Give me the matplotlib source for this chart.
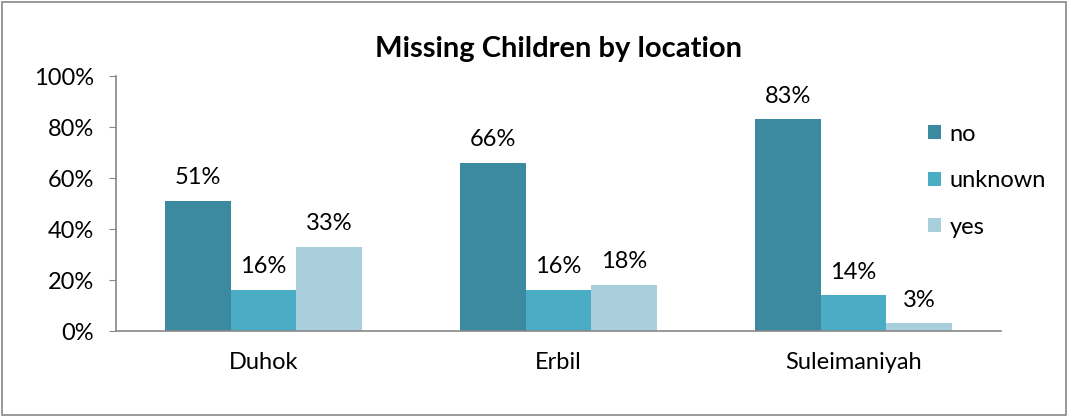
import matplotlib.pyplot as plt
from matplotlib.patches import Rectangle
import numpy as np

plt.rcParams['font.family'] = ['Lato', 'DejaVu Sans']

locations = ['Duhok', 'Erbil', 'Suleimaniyah']
series = ['no', 'unknown', 'yes']
no_vals = [51, 66, 83]
unknown_vals = [16, 16, 14]
yes_vals = [33, 18, 3]
colors = ['#3C8AA0', '#4BACC6', '#A9CEDC']

fig = plt.figure(figsize=(10.69, 4.17), dpi=100)
ax = fig.add_axes([0.1085, 0.2062, 0.8279, 0.6115])

x = np.arange(len(locations))
width = 0.222
for k, (name, vals) in enumerate(zip(series, [no_vals, unknown_vals, yes_vals])):
    pos = x + (k - 1) * width
    ax.bar(pos, vals, width, color=colors[k], label=name)
    for xb, v in zip(pos, vals):
        ax.text(xb, v + 5, '{}%'.format(v), ha='center', va='bottom',
                fontsize=17, color='black')

ax.set_xlim(-0.5, 2.5)
ax.set_ylim(0, 100)
ax.set_yticks(range(0, 101, 20))
ax.set_yticklabels(['{}%'.format(t) for t in range(0, 101, 20)])
ax.set_xticks(x)
ax.set_xticklabels(locations)
ax.tick_params(axis='y', labelsize=17, length=5, color='#888888', pad=11)
ax.tick_params(axis='x', labelsize=17, length=0, pad=15)
for s in ['top', 'right']:
    ax.spines[s].set_visible(False)
for s in ['left', 'bottom']:
    ax.spines[s].set_color('#888888')
    ax.spines[s].set_linewidth(1.2)

ax.set_title('Missing Children by location', fontsize=21, fontweight='bold',
             pad=14)

ax.legend(loc='upper left', bbox_to_anchor=(0.907, 0.85), frameon=False,
          fontsize=17, handlelength=0.55, handleheight=0.55,
          handletextpad=0.35, labelspacing=1.08, borderaxespad=0)

fig.patches.append(Rectangle((0.002, 0.004), 0.995, 0.992,
                             transform=fig.transFigure, fill=False,
                             edgecolor='#888888', linewidth=1.2))

fig.savefig('out.png', dpi=100)
